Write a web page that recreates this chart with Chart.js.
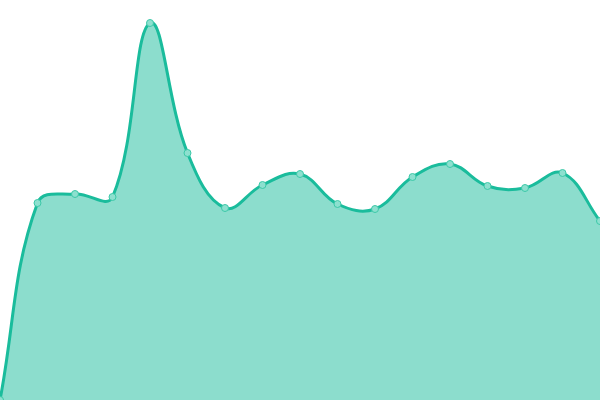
<!DOCTYPE html>
<html>
<head>
<meta charset="utf-8">
<script src="https://cdn.jsdelivr.net/npm/chart.js@4"></script>
<style>
  html, body { margin: 0; padding: 0; background: #fff; }
  #wrap { width: 600px; height: 400px; }
</style>
</head>
<body>
<div id="wrap"><canvas id="myChart"></canvas></div>
<script>
const labels = ['1', '2', '3', '4', '5', '6', '7', '8', '9', '10', '11', '12', '13', '14', '15', '16', '17'];
const values = [0, 197, 206, 203, 377, 247, 192, 215, 226, 196, 191, 223, 236, 214, 212, 227, 179];

const ctx = document.getElementById('myChart').getContext('2d');

new Chart(ctx, {
    type: 'line',
    data: {
        labels: labels,
        datasets: [{
            data: values,
            fill: true,
            backgroundColor: 'rgba(26, 188, 156, 0.5)',
            borderColor: '#1abc9c',
            borderWidth: 3,
            tension: 0.4,
            pointRadius: 3.5,
            pointBorderWidth: 1,
            pointBackgroundColor: '#8de0cf',
            pointBorderColor: '#3cc8a8',
        }],
    },
    options: {
        responsive: true,
        maintainAspectRatio: false,
        animation: false,
        layout: { padding: 0, autoPadding: false },
        plugins: {
            legend: { display: false },
            tooltip: { enabled: false },
        },
        scales: {
            x: { display: false },
            y: { display: false, min: 0, max: 400 },
        },
    },
});
</script>
</body>
</html>
